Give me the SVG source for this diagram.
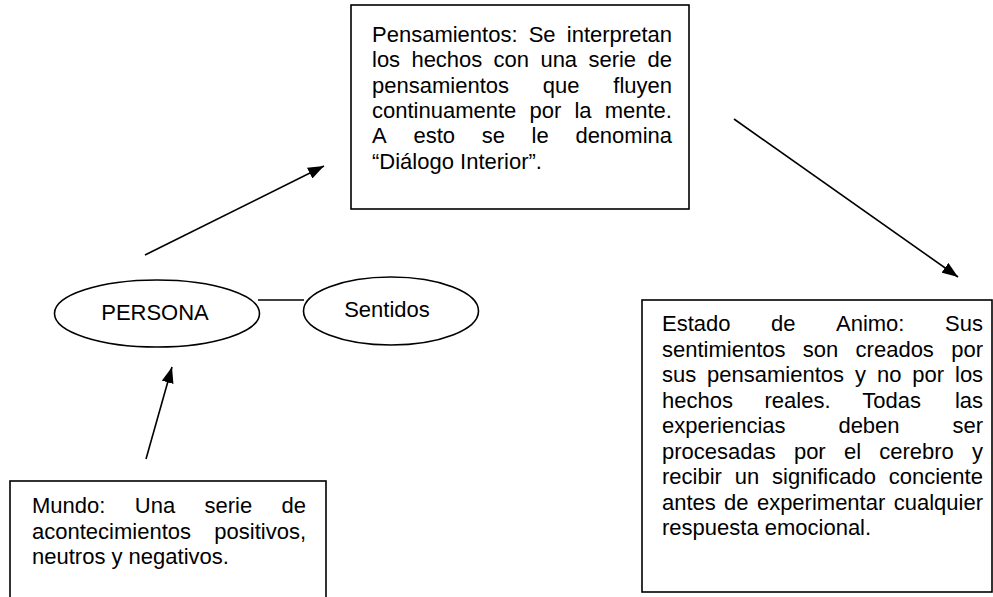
<svg xmlns="http://www.w3.org/2000/svg" width="993" height="597" viewBox="0 0 993 597">
<defs>
<style>
.box{fill:#fff;stroke:#000;stroke-width:1.6}
.ell{fill:#fff;stroke:#000;stroke-width:1.6}
.t{font-family:"Liberation Sans",Arial,sans-serif;font-size:22px;fill:#000}
.c{text-anchor:middle}
.e{text-anchor:end}
.ln{fill:none;stroke:#000;stroke-width:1.6}
</style>
<marker id="ah" viewBox="0 0 16 12" refX="16" refY="6" markerWidth="16" markerHeight="12" markerUnits="userSpaceOnUse" orient="auto">
<path d="M0,0 L16,6 L0,12 z" fill="#000"/>
</marker>
</defs>
<rect width="993" height="597" fill="#fff"/>

<g id="connectors">
<line class="ln" x1="145" y1="255" x2="324" y2="166" marker-end="url(#ah)"/>
<line class="ln" x1="734" y1="119" x2="958" y2="277" marker-end="url(#ah)"/>
<line class="ln" x1="146" y1="459" x2="172" y2="367" marker-end="url(#ah)"/>
<line class="ln" x1="258" y1="300" x2="304" y2="300"/>
</g>

<g id="pensamientos">
<rect class="box" x="351" y="5" width="338" height="204"/>
<text class="t" y="42"><tspan x="372">Pensamientos:</tspan><tspan x="528.7">Se</tspan><tspan x="566.8">interpretan</tspan></text>
<text class="t" y="67.3"><tspan x="372">los</tspan><tspan x="411.4">hechos</tspan><tspan x="493.6">con</tspan><tspan x="540.4">una</tspan><tspan x="588.4">serie</tspan><tspan x="647.4">de</tspan></text>
<text class="t" y="92.6"><tspan x="372">pensamientos</tspan><tspan x="542.8">que</tspan><tspan x="613.3">fluyen</tspan></text>
<text class="t" y="117.9"><tspan x="372">continuamente</tspan><tspan x="529.5">por</tspan><tspan x="574.4">la</tspan><tspan x="604.7">mente.</tspan></text>
<text class="t" y="143.2"><tspan x="372">A</tspan><tspan x="413.4">esto</tspan><tspan x="481.7">se</tspan><tspan x="531.6">le</tspan><tspan x="575.4">denomina</tspan></text>
<text class="t" x="372" y="168.5">“Diálogo Interior”.</text>
</g>

<g id="persona">
<ellipse class="ell" cx="157" cy="313.5" rx="102.5" ry="33.5"/>
<text class="t c" x="155" y="320">PERSONA</text>
</g>

<g id="sentidos">
<ellipse class="ell" cx="391" cy="311" rx="87.5" ry="34"/>
<text class="t c" x="387" y="317">Sentidos</text>
</g>

<g id="mundo">
<rect class="box" x="10" y="481" width="316" height="130"/>
<text class="t" y="513"><tspan x="32">Mundo:</tspan><tspan x="134.8">Una</tspan><tspan x="204.5">serie</tspan><tspan x="281.6">de</tspan></text>
<text class="t" y="538.5"><tspan x="32">acontecimientos</tspan><tspan x="214.3">positivos,</tspan></text>
<text class="t" x="32" y="564">neutros y negativos.</text>
</g>

<g id="estado">
<rect class="box" x="642" y="300" width="350" height="292"/>
<text class="t" y="331"><tspan x="662">Estado</tspan><tspan x="771">de</tspan><tspan x="836">Animo:</tspan><tspan x="945.1">Sus</tspan></text>
<text class="t" y="356.5"><tspan x="662">sentimientos</tspan><tspan x="802.8">son</tspan><tspan x="855.6">creados</tspan><tspan x="951.2">por</tspan></text>
<text class="t" y="382"><tspan x="662">sus</tspan><tspan x="707.1">pensamientos</tspan><tspan x="855">y</tspan><tspan x="876.9">no</tspan><tspan x="912.3">por</tspan><tspan x="955">los</tspan></text>
<text class="t" y="407.5"><tspan x="662">hechos</tspan><tspan x="764.5">reales.</tspan><tspan x="862.2">Todas</tspan><tspan x="954.9">las</tspan></text>
<text class="t" y="433"><tspan x="662">experiencias</tspan><tspan x="838.4">deben</tspan><tspan x="952.4">ser</tspan></text>
<text class="t" y="458.5"><tspan x="662">procesadas</tspan><tspan x="793.9">por</tspan><tspan x="843.9">el</tspan><tspan x="879.2">cerebro</tspan><tspan x="972">y</tspan></text>
<text class="t" y="484"><tspan x="662">recibir</tspan><tspan x="734.7">un</tspan><tspan x="772">significado</tspan><tspan x="888.7">conciente</tspan></text>
<text class="t" y="509.5"><tspan x="662">antes</tspan><tspan x="724.1">de</tspan><tspan x="756.9">experimentar</tspan><tspan x="893.7">cualquier</tspan></text>
<text class="t" x="662" y="535">respuesta emocional.</text>
</g>
</svg>
